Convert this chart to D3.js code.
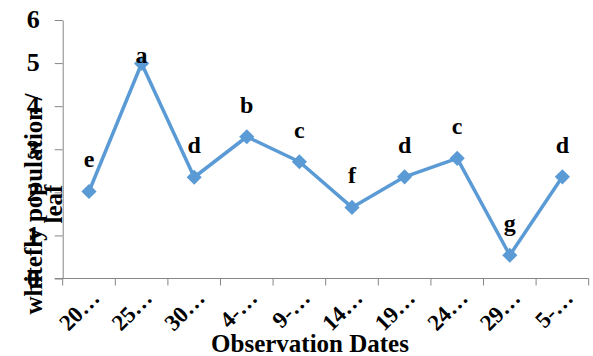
<!DOCTYPE html>
<html lang="en">
<head>
<meta charset="UTF-8">
<title>Whitefly population by observation date</title>
<script src="https://d3js.org/d3.v7.min.js"></script>
<style>
html, body {
  margin: 0;
  padding: 0;
  background-color: white;
}

body {
  font-family: 'Liberation Serif', 'Times New Roman', serif;
}

.axis path, .axis line {
  stroke: #868686;
  stroke-width: 1;
}

.axis text {
  font-family: 'Liberation Serif', 'Times New Roman', serif;
  font-weight: bold;
  fill: black;
}

.group-label {
  font-family: 'Liberation Serif', 'Times New Roman', serif;
  font-weight: bold;
  font-size: 24px;
  fill: black;
}

.axis-title {
  font-family: 'Liberation Serif', 'Times New Roman', serif;
  font-weight: bold;
  font-size: 25px;
  fill: black;
}
</style>
</head>
<body>
<div id="chart"></div>

<script>

// --------------------------------------
// Data
// --------------------------------------

const dates = ["20…", "25…", "30…", "4-…", "9-…", "14…", "19…", "24…", "29…", "5-…"];
const population = [2.02, 4.99, 2.35, 3.29, 2.71, 1.65, 2.36, 2.79, 0.54, 2.36];
const letters = ["e", "a", "d", "b", "c", "f", "d", "c", "g", "d"];
const yTicks = [0, 1, 2, 3, 4, 5, 6];

// --------------------------------------
// Size and margin
// --------------------------------------

let totalWidth = 593;
let totalHeight = 356;
let margin = {top: 20, right: 4, bottom: 77, left: 62.7};

let svg = d3.select("#chart")
  .append("svg")
  .attr("width", totalWidth)
  .attr("height", totalHeight);

// --------------------------------------
// Scales
// --------------------------------------

let x = d3.scaleBand()
  .domain(dates)
  .range([margin.left, margin.left + 526])
  .padding(0);

let y = d3.scaleLinear()
  .domain([0, 6])
  .range([278.5, margin.top]);

// --------------------------------------
// Axes
// --------------------------------------

// y axis: ticks point outward
let yAxis = svg.append("g")
  .attr("class", "axis y-axis")
  .attr("transform", `translate(${margin.left},0)`)
  .call(d3.axisLeft(y).tickValues(yTicks).tickSize(8).tickSizeOuter(0).tickPadding(15)
    .tickFormat(d3.format("d")));

yAxis.selectAll("text").style("font-size", "26px").attr("dy", "0.3em");

// x axis with band edges as tick marks
let xAxis = svg.append("g")
  .attr("class", "axis x-axis")
  .attr("transform", `translate(0,${y(0)})`);

xAxis.append("line")
  .attr("x1", margin.left - 8)
  .attr("x2", x.range()[1])
  .attr("y1", 0)
  .attr("y2", 0);

let edges = dates.map(d => x(d)).concat([x.range()[1]]);

xAxis.selectAll(".edge")
  .data(edges)
  .join("line")
  .attr("class", "edge")
  .attr("x1", d => d)
  .attr("x2", d => d)
  .attr("y1", 0)
  .attr("y2", 7);

xAxis.selectAll(".tick-label")
  .data(dates)
  .join("text")
  .attr("class", "tick-label")
  .attr("text-anchor", "end")
  .style("font-size", "23px")
  .attr("transform", d => `translate(${x(d) + x.bandwidth() / 2 + 12},${21}) rotate(-45)`)
  .text(d => d);

// --------------------------------------
// Line and markers
// --------------------------------------

let points = dates.map((d, i) => ({date: d, value: population[i], letter: letters[i]}));

let line = d3.line()
  .x(d => x(d.date) + x.bandwidth() / 2)
  .y(d => y(d.value));

svg.append("path")
  .datum(points)
  .attr("fill", "none")
  .attr("stroke", "#5B9BD5")
  .attr("stroke-width", 3.5)
  .attr("stroke-linejoin", "round")
  .attr("d", line);

svg.selectAll(".marker")
  .data(points)
  .join("path")
  .attr("class", "marker")
  .attr("fill", "#5B9BD5")
  .attr("d", d3.symbol(d3.symbolSquare, 115))
  .attr("transform", d => `translate(${x(d.date) + x.bandwidth() / 2},${y(d.value)}) rotate(45)`);

// significance letters above each point (the top one sits just over the marker)
let maxVal = d3.max(population);

svg.selectAll(".group-label")
  .data(points)
  .join("text")
  .attr("class", "group-label")
  .attr("text-anchor", "middle")
  .attr("x", d => x(d.date) + x.bandwidth() / 2)
  .attr("y", d => y(d.value) - (d.value === maxVal ? 1 : 24))
  .text(d => d.letter);

// --------------------------------------
// Axis titles
// --------------------------------------

svg.append("text")
  .attr("class", "axis-title")
  .attr("text-anchor", "middle")
  .attr("x", 310)
  .attr("y", 352)
  .text("Observation Dates");

let yTitle = svg.append("text")
  .attr("class", "axis-title")
  .attr("text-anchor", "middle")
  .attr("transform", "translate(42,204) rotate(-90)");

yTitle.append("tspan").attr("x", 0).attr("dy", 0).text("whitefly population /");
yTitle.append("tspan").attr("x", 0).attr("dy", "0.8em").text("leaf");

</script>
</body>
</html>
